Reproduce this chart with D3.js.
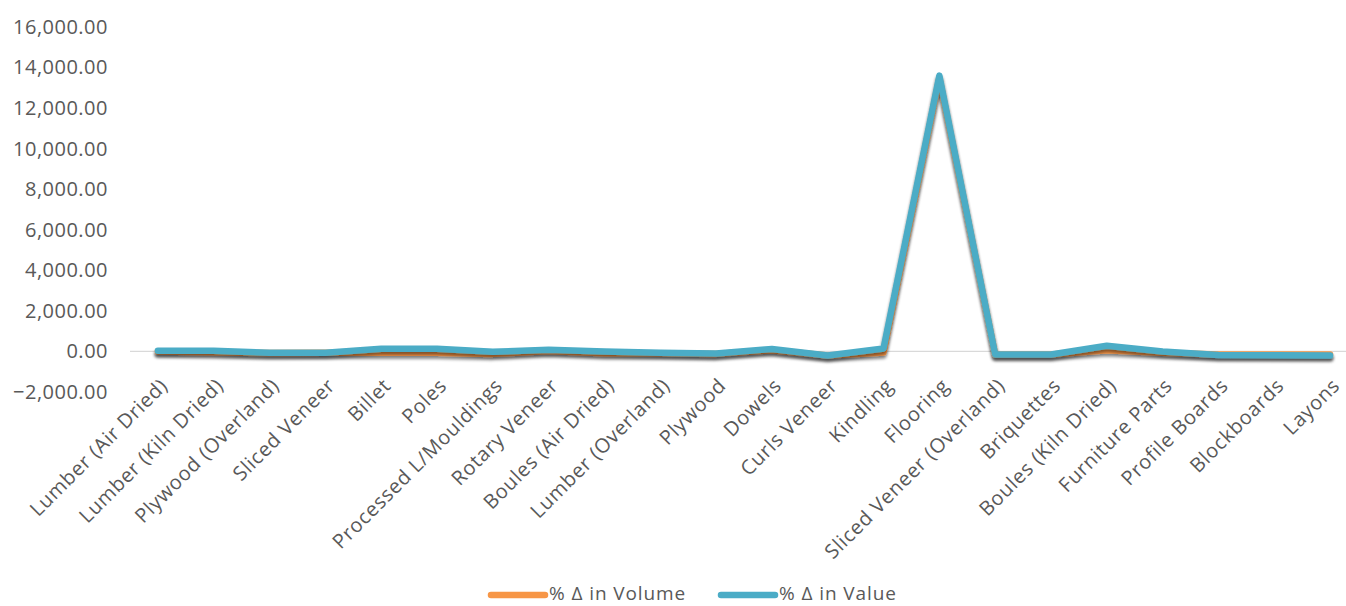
<!DOCTYPE html>
<html>
<head>
<meta charset="utf-8">
<script src="https://cdn.jsdelivr.net/npm/d3@7"></script>
<style>
  body { margin: 0; background: #fff; }
  text { font-family: "Open Sans", sans-serif; fill: #595959; }
</style>
</head>
<body>
<script>
const w = 1346
const h = 606

const categories = ['Lumber (Air Dried)', 'Lumber (Kiln Dried)', 'Plywood (Overland)', 'Sliced Veneer', 'Billet', 'Poles',
  'Processed L/Mouldings', 'Rotary Veneer', 'Boules (Air Dried)', 'Lumber (Overland)', 'Plywood', 'Dowels', 'Curls Veneer',
  'Kindling', 'Flooring', 'Sliced Veneer (Overland)', 'Briquettes', 'Boules (Kiln Dried)', 'Furniture Parts', 'Profile Boards',
  'Blockboards', 'Layons']
const volume = [0, -40, -80, -70, -60, -60, -120, 20, -90, -90, -120, 60, -200, -50, 13500, -150, -150, 60, -60, -150, -150, -150]
const value = [40, 30, -60, -60, 130, 130, -20, 80, 0, -60, -100, 120, -200, 150, 13600, -150, -150, 280, 0, -180, -190, -200]
const yTicks = [-2000, 0, 2000, 4000, 6000, 8000, 10000, 12000, 14000, 16000]
const seriesNames = ['% Δ in Volume', '% Δ in Value']
const colors = ['#F79646', '#4BACC6']

const svg = d3.select('body').append('svg').attr('width', w).attr('height', h)

const defs = svg.append('defs')
const f = defs.append('filter').attr('id', 'shadow').attr('x', '-5%').attr('y', '-5%').attr('width', '110%').attr('height', '120%')
f.append('feDropShadow').attr('dx', 0).attr('dy', 3).attr('stdDeviation', 1.8)
  .attr('flood-color', '#000').attr('flood-opacity', 0.45)

const xScale = d3.scaleBand().domain(categories).range([130, 1358])
const yScale = d3.scaleLinear().domain([-2000, 16000]).range([392, 27])
const cx = (d) => xScale(d) + xScale.bandwidth() / 2

// y axis labels
const leftAxis = d3.axisLeft(yScale).tickValues(yTicks).tickSize(0).tickPadding(0)
  .tickFormat(d3.format(',.2f'))
const gy = svg.append('g').attr('transform', 'translate(108,0)').call(leftAxis)
gy.select('.domain').remove()
gy.selectAll('text').style('font-size', '20px').style('letter-spacing', '0.5px')
  .style('fill', '#595959').attr('font-family', 'Open Sans')

// zero line
svg.append('line')
  .attr('x1', 130).attr('x2', 1358)
  .attr('y1', yScale(0)).attr('y2', yScale(0))
  .attr('stroke', '#d9d9d9').attr('stroke-width', 1.3)

// category labels
svg.append('g').selectAll('text').data(categories).enter().append('text')
  .attr('transform', (d) => 'translate(' + (cx(d) + 6) + ',382) rotate(-45)')
  .attr('text-anchor', 'end')
  .attr('dy', '0.35em')
  .style('font-size', '20px')
  .style('letter-spacing', '0.7px')
  .text((d) => d)

const line = d3.line().x((d, i) => cx(categories[i])).y((d) => yScale(d))

const series = [volume, value]
series.forEach((s, k) => {
  svg.append('path').datum(s)
    .attr('d', line)
    .attr('fill', 'none')
    .attr('stroke', colors[k])
    .attr('stroke-width', 6.5)
    .attr('stroke-linejoin', 'round')
    .attr('stroke-linecap', 'round')
    .attr('filter', 'url(#shadow)')
})

// legend
const legendX = [491, 721]
const lg = svg.append('g')
seriesNames.forEach((n, k) => {
  lg.append('line')
    .attr('x1', legendX[k]).attr('x2', legendX[k] + 54)
    .attr('y1', 595).attr('y2', 595)
    .attr('stroke', colors[k]).attr('stroke-width', 6.5).attr('stroke-linecap', 'round')
  lg.append('text')
    .attr('x', legendX[k] + 58).attr('y', 593).attr('dy', '0.35em')
    .style('font-size', '19px')
    .style('letter-spacing', '0.9px')
    .text(n)
})
</script>
</body>
</html>
